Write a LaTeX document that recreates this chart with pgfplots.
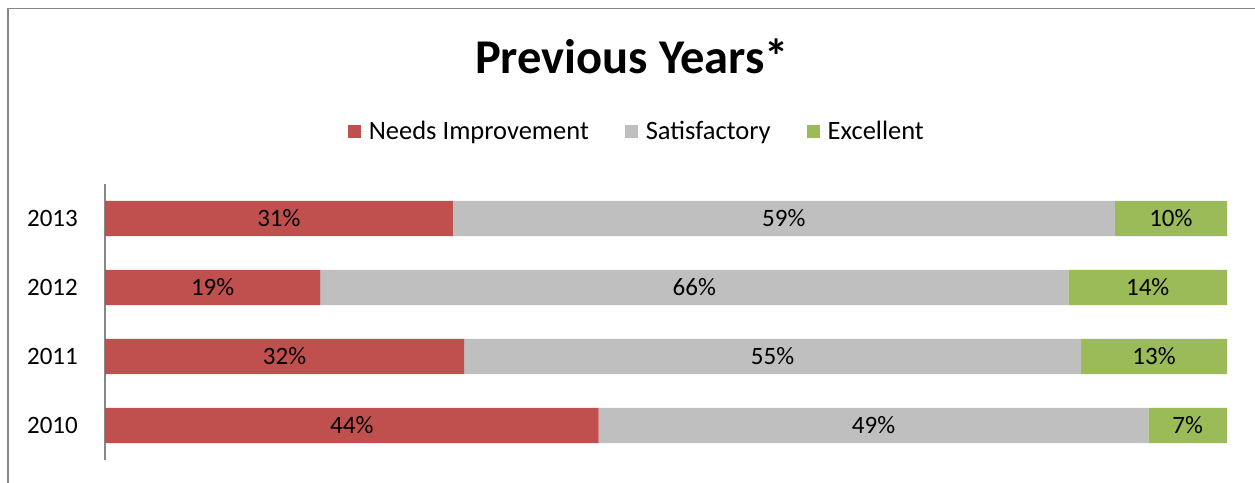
\documentclass[border=0pt]{standalone}
\usepackage{pgfplots}
\pgfplotsset{compat=1.18}
\usepackage{fontspec}
\setmainfont{Carlito}
\definecolor{cred}{HTML}{C0504D}
\definecolor{cgray}{HTML}{BFBFBF}
\definecolor{cgreen}{HTML}{9BBB59}
\definecolor{cframe}{HTML}{878787}
\begin{document}
\begin{tikzpicture}
\useasboundingbox (0,0) rectangle (1255bp,483bp);
\begin{axis}[
  at={(105bp,23bp)}, anchor=south west,
  scale only axis, width=1122bp, height=276bp,
  xbar stacked, bar width=0.51,
  xmin=0, xmax=100, ymin=-0.5, ymax=3.5,
  axis x line=none, axis y line*=left,
  y axis line style={cframe, line width=1.2bp},
  ytick={0,1,2,3}, yticklabels={2010,2011,2012,2013},
  major tick length=0pt,
  yticklabel style={font=\fontsize{25bp}{30bp}\selectfont, inner sep=0pt, xshift=-27bp, anchor=east},
  point meta=explicit symbolic,
  nodes near coords,
  every node near coord/.append style={font=\fontsize{25bp}{30bp}\selectfont, text=black},
  title={\textbf{Previous Years*}},
  title style={at={(0.4697,1.44)}, anchor=center, font=\fontsize{48.5bp}{54bp}\selectfont},
  legend style={at={(0.474,1.192)}, anchor=center, draw=none, fill=none,
    legend columns=3, font=\fontsize{26.5bp}{30bp}\selectfont,
    /tikz/every even column/.append style={column sep=34bp}},
  legend image code/.code={\fill[#1] (0bp,-6.5bp) rectangle (13bp,6.5bp); \path (0bp,0bp) -- (19bp,0bp);},
]
\addplot[fill=cred, draw=none] coordinates {(44,0)[44\%] (32,1)[32\%] (19.19,2)[19\%] (31,3)[31\%]};
\addplot[fill=cgray, draw=none] coordinates {(49,0)[49\%] (55,1)[55\%] (66.67,2)[66\%] (59,3)[59\%]};
\addplot[fill=cgreen, draw=none] coordinates {(7,0)[7\%] (13,1)[13\%] (14.14,2)[14\%] (10,3)[10\%]};
\legend{Needs Improvement, Satisfactory, Excellent}
\end{axis}
\draw[cframe, line width=1.5bp] (8bp,-2bp) -- (8bp,474.5bp) -- (1257bp,474.5bp);
\end{tikzpicture}
\end{document}
